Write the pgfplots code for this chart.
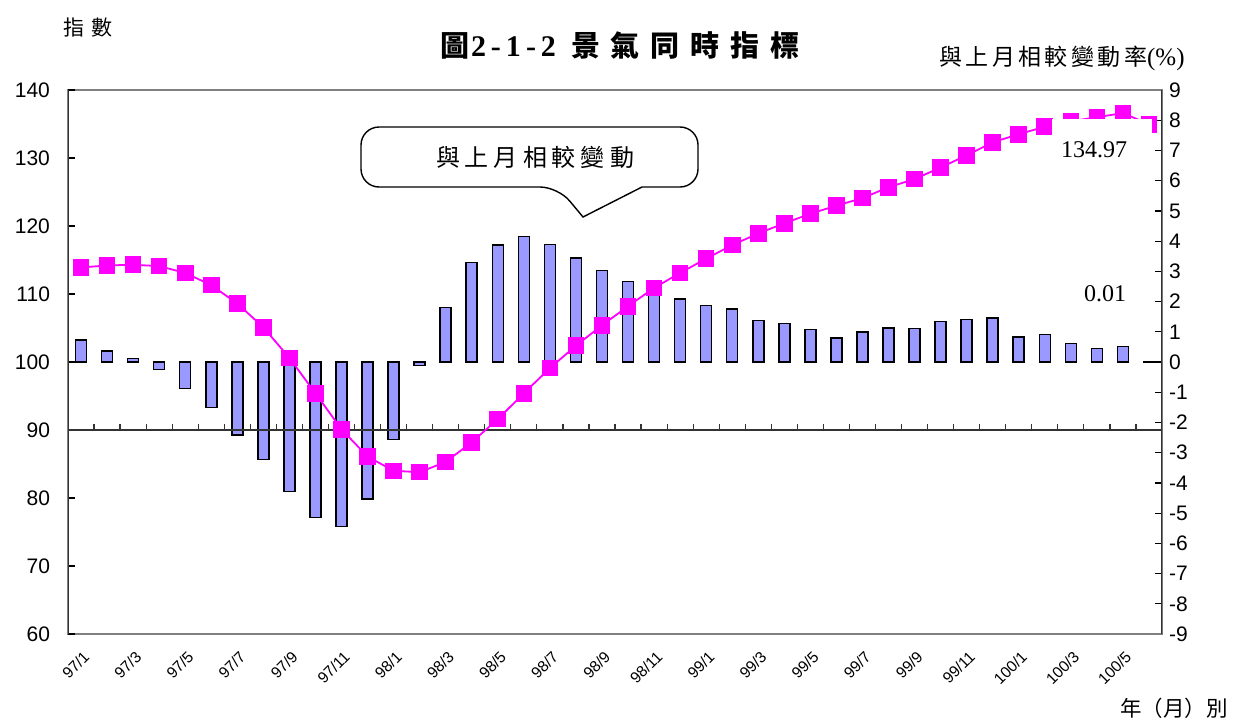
\documentclass[border=0pt]{standalone}
\usepackage{pgfplots}
\pgfplotsset{compat=1.18}
\usepackage{pgfplotstable}
\usepackage{fontspec}
\setmainfont{Liberation Sans}
\newfontfamily\tnr{Liberation Serif}
\newfontfamily\cjk{Noto Sans CJK TC}
\definecolor{barblue}{HTML}{9999FF}
\definecolor{mag}{HTML}{FF00FF}

\pgfplotstableread{
i pct idx
0 0.73 113.9
1 0.36 114.2
2 0.11 114.3
3 -0.24 114.1
4 -0.87 113.1
5 -1.51 111.3
6 -2.42 108.6
7 -3.22 105.1
8 -4.28 100.6
9 -5.15 95.4
10 -5.45 90.1
11 -4.54 86.1
12 -2.56 84.0
13 -0.12 83.8
14 1.80 85.3
15 3.30 88.2
16 3.87 91.6
17 4.16 95.4
18 3.89 99.1
19 3.44 102.4
20 3.03 105.4
21 2.67 108.2
22 2.48 110.9
23 2.08 113.1
24 1.87 115.2
25 1.75 117.2
26 1.38 118.9
27 1.28 120.4
28 1.07 121.8
29 0.80 123.0
30 0.99 124.1
31 1.13 125.7
32 1.11 126.9
33 1.34 128.6
34 1.41 130.4
35 1.46 132.3
36 0.83 133.5
37 0.91 134.6
38 0.61 135.4
39 0.44 136.0
40 0.51 136.6
41 0.01 134.97
}\data

\begin{document}
\begin{tikzpicture}
\path[use as bounding box] (0,0) rectangle (617.5pt,360pt);
% right axis: month-over-month change (bars)
\begin{axis}[
  at={(34pt,43pt)}, anchor=south west,
  scale only axis, width=547pt, height=272pt,
  xmin=-0.5, xmax=41.5, ymin=-9, ymax=9,
  axis line style={draw=gray, line width=0.9pt},
  ytick={-9,-8,...,9},
  yticklabels={-9,-8,-7,-6,-5,-4,-3,-2,-1,0,1,2,3,4,5,6,7,8,9},
  ytick pos=right, yticklabel pos=right,
  xtick={0,2,...,40},
  xticklabels={97/1,97/3,97/5,97/7,97/9,97/11,98/1,98/3,98/5,98/7,98/9,98/11,99/1,99/3,99/5,99/7,99/9,99/11,100/1,100/3,100/5},
  xtick pos=bottom,
  xtick style={draw=none},
  xticklabel style={rotate=45, anchor=east, inner sep=1pt, font=\fontsize{7.8}{8}\selectfont, xshift=-4pt, yshift=-9pt},
  yticklabel style={font=\fontsize{10.5}{12}\selectfont},
  tick align=inside, major tick length=3.5pt,
  ytick style={black, line width=0.6pt},
  /pgf/number format/assume math mode=true,
]
\addplot[ybar, bar width=5.5pt, bar shift=0pt, fill=barblue, draw=black, line width=0.75pt] table[x=i,y=pct]{\data};
\end{axis}
% left axis: index (line)
\begin{axis}[
  at={(34pt,43pt)}, anchor=south west,
  scale only axis, width=547pt, height=272pt,
  xmin=-0.5, xmax=41.5, ymin=60, ymax=140,
  axis line style={draw=none},
  ytick={60,70,...,140},
  yticklabels={60,70,80,90,100,110,120,130,140},
  ytick pos=left,
  xtick=\empty,
  yticklabel style={font=\fontsize{10.5}{12}\selectfont, xshift=-5.5pt},
  tick align=inside, major tick length=3.5pt,
  ytick style={black, line width=0.6pt},
  /pgf/number format/assume math mode=true,
]
\draw[black!80, line width=0.8pt] (axis cs:-0.5,90) -- (axis cs:41.5,90);
\pgfplotsinvokeforeach{0.5,1.5,...,40.5}{\draw[black!80, line width=0.6pt] (axis cs:#1,90) -- ++(0pt,3pt);}
\addplot[mag, line width=0.9pt, mark=square*, mark size=3.7pt, mark options={fill=mag, draw=mag}] table[x=i,y=idx]{\data};
\draw[black!80, line width=1pt] (rel axis cs:0,0) -- (rel axis cs:0,1);
\draw[black!80, line width=1pt] (rel axis cs:1,0) -- (rel axis cs:1,1);
\end{axis}
% labels
\node[fill=white, minimum width=50pt, minimum height=31pt, inner sep=0pt] at (551pt,285pt) {};
\node[font=\tnr\fontsize{12}{14}\selectfont] at (547pt,285pt) {134.97};
\node[font=\tnr\fontsize{12}{14}\selectfont] at (552.5pt,213pt) {0.01};
\node[font=\cjk\fontsize{10.5}{12}\selectfont] at (44pt,346pt) {指\hspace{3.5pt}數};
\node at (310pt,337.5pt) {\fontsize{14.5}{16}\selectfont{\cjk\bfseries 圖}\hspace{1pt}{\tnr\bfseries\fontsize{15}{16}\selectfont 2\hspace{2.5pt}-\hspace{2.5pt}1\hspace{2.5pt}-\hspace{2.5pt}2}\hspace{7.5pt}{\cjk\bfseries 景\hspace{5.5pt}氣\hspace{5.5pt}同\hspace{5.5pt}時\hspace{5.5pt}指\hspace{5.5pt}標}};
\node[anchor=east, inner sep=0pt] at (592.5pt,331pt) {\fontsize{11.5}{13}\selectfont{\cjk 與\hspace{1.7pt}上\hspace{1.7pt}月\hspace{1.7pt}相\hspace{1.7pt}較\hspace{1.7pt}變\hspace{1.7pt}動\hspace{1.7pt}率}{\tnr\fontsize{12.5}{13}\selectfont (\%)}};
\node[anchor=east, inner sep=0pt, font=\cjk\fontsize{10.75}{12}\selectfont] at (614pt,6pt) {年（月）別};
% callout
\draw[black, line width=0.7pt, fill=white]
  (321pt,266.5pt) [rounded corners=9pt] -- (349pt,266.5pt) -- (349pt,296.5pt) -- (180.5pt,296.5pt) -- (180.5pt,266.5pt) -- (279pt,266.5pt) [sharp corners] -- (291.5pt,251.5pt) -- cycle;
\node[font=\cjk\fontsize{12}{14}\selectfont] at (267.5pt,281.5pt) {與\hspace{2.5pt}上\hspace{2.5pt}月\hspace{2.5pt}相\hspace{2.5pt}較\hspace{2.5pt}變\hspace{2.5pt}動};
\end{tikzpicture}
\end{document}
